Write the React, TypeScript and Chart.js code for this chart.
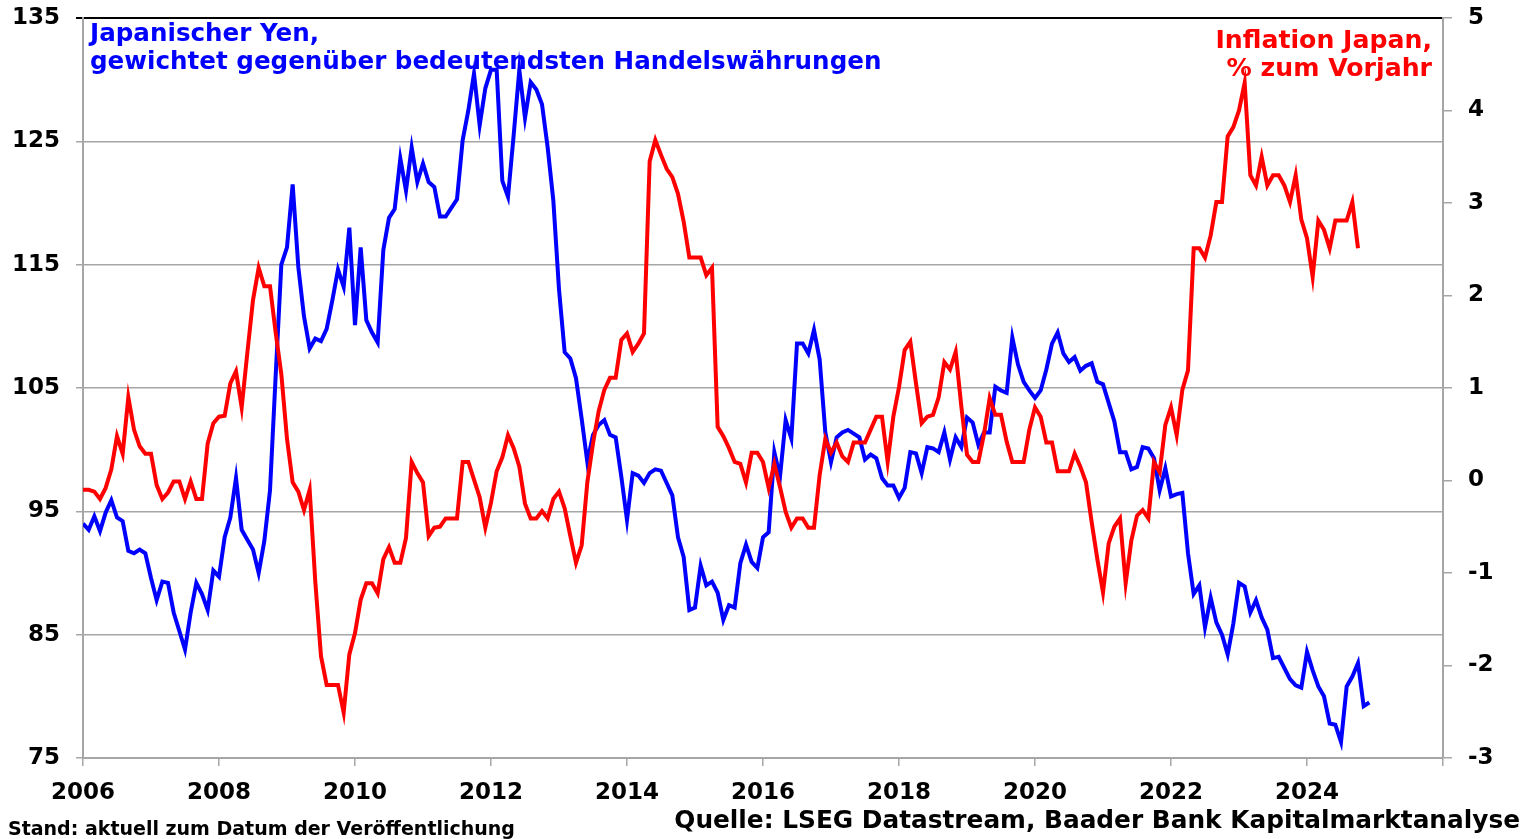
import React, { useEffect, useRef } from "react";
import { Chart, registerables } from "chart.js";

Chart.register(...registerables);

const START_YEAR = 2006;

// Japanese Yen, trade-weighted (left axis), monthly from Jan 2006
const yenIndex: number[] = [
  94.0, 93.5, 94.6, 93.4, 94.9, 95.9, 94.5, 94.2, 91.8, 91.6, 91.9, 91.6,
  89.6, 87.8, 89.3, 89.2, 86.8, 85.3, 83.8, 86.8, 89.2, 88.3, 87.0, 90.2,
  89.7, 92.9, 94.5, 97.7, 93.5, 92.7, 91.9, 90.0, 92.6, 96.7, 106.0, 115.0,
  116.4, 121.5, 114.8, 110.8, 108.2, 109.0, 108.8, 109.8, 112.1, 114.6, 113.2, 118.0,
  110.1, 116.4, 110.5, 109.5, 108.7, 116.2, 118.8, 119.5, 123.6, 121.0, 124.5, 121.7,
  123.2, 121.7, 121.3, 118.9, 118.9, 119.6, 120.3, 125.1, 127.5, 130.5, 126.3, 129.3,
  130.8, 130.8, 121.8, 120.5, 125.5, 130.8, 126.9, 129.8, 129.2, 128.0, 124.5, 120.2,
  113.0, 107.9, 107.4, 105.8, 102.5, 99.0, 101.2, 102.0, 102.4, 101.2, 101.0, 97.8,
  94.3, 98.1, 97.9, 97.3, 98.1, 98.4, 98.3, 97.3, 96.3, 92.9, 91.3, 87.0,
  87.2, 90.6, 89.0, 89.3, 88.4, 86.2, 87.4, 87.2, 90.8, 92.3, 90.9, 90.4,
  92.9, 93.3, 99.8, 97.8, 102.4, 100.9, 108.6, 108.6, 107.8, 109.7, 107.3, 101.4,
  99.0, 101.0, 101.4, 101.6, 101.3, 101.0, 99.2, 99.6, 99.3, 97.7, 97.1, 97.1,
  96.1, 96.9, 99.8, 99.7, 98.1, 100.2, 100.1, 99.8, 101.4, 99.2, 101.0, 100.2,
  102.6, 102.2, 100.4, 101.4, 101.4, 105.1, 104.8, 104.6, 109.1, 106.9, 105.5, 104.8,
  104.2, 104.8, 106.5, 108.6, 109.5, 107.8, 107.1, 107.5, 106.4, 106.8, 107.0, 105.5,
  105.3, 103.8, 102.3, 99.8, 99.8, 98.4, 98.6, 100.2, 100.1, 99.3, 96.7, 98.5,
  96.2, 96.4, 96.5, 91.6, 88.3, 89.0, 85.6, 88.0, 86.0, 85.0, 83.4, 85.9,
  89.2, 88.9, 86.8, 87.8, 86.4, 85.4, 83.1, 83.2, 82.3, 81.4, 80.9, 80.7,
  83.6, 82.1, 80.8, 80.0, 77.8, 77.7, 76.3, 80.8, 81.6, 82.7, 79.2, 79.5,
];

// Inflation Japan, % yoy (right axis), monthly from Jan 2006
const inflationYoY: number[] = [
  -0.10, -0.10, -0.12, -0.20, -0.08, 0.12, 0.48, 0.29, 0.90, 0.55, 0.37, 0.29,
  0.29, -0.05, -0.20, -0.13, -0.01, -0.01, -0.20, -0.01, -0.20, -0.20, 0.40, 0.62,
  0.69, 0.70, 1.05, 1.18, 0.79, 1.38, 1.95, 2.30, 2.10, 2.10, 1.60, 1.15,
  0.45, -0.02, -0.12, -0.32, -0.10, -1.10, -1.90, -2.21, -2.21, -2.21, -2.51, -1.88,
  -1.65, -1.29, -1.11, -1.11, -1.22, -0.85, -0.72, -0.89, -0.89, -0.62, 0.20, 0.08,
  -0.02, -0.60, -0.51, -0.50, -0.41, -0.41, -0.41, 0.20, 0.20, 0.01, -0.18, -0.51,
  -0.24, 0.10, 0.25, 0.49, 0.35, 0.15, -0.25, -0.41, -0.41, -0.33, -0.41, -0.20,
  -0.12, -0.30, -0.60, -0.89, -0.70, -0.02, 0.40, 0.75, 0.98, 1.11, 1.11, 1.52,
  1.59, 1.39, 1.48, 1.59, 3.45, 3.68, 3.52, 3.37, 3.28, 3.10, 2.80, 2.41,
  2.41, 2.41, 2.22, 2.30, 0.58, 0.48, 0.35, 0.20, 0.18, -0.02, 0.30, 0.30,
  0.20, -0.08, 0.18, -0.07, -0.34, -0.51, -0.41, -0.41, -0.51, -0.51, 0.06, 0.45,
  0.30, 0.41, 0.26, 0.20, 0.41, 0.41, 0.41, 0.55, 0.69, 0.69, 0.20, 0.69,
  1.01, 1.41, 1.50, 1.05, 0.62, 0.69, 0.71, 0.90, 1.28, 1.20, 1.39, 0.80,
  0.28, 0.20, 0.20, 0.50, 0.89, 0.71, 0.71, 0.42, 0.20, 0.20, 0.20, 0.55,
  0.79, 0.69, 0.41, 0.41, 0.10, 0.10, 0.10, 0.29, 0.15, -0.02, -0.45, -0.85,
  -1.21, -0.68, -0.50, -0.41, -1.11, -0.65, -0.38, -0.32, -0.41, 0.20, 0.09, 0.60,
  0.79, 0.49, 0.98, 1.19, 2.51, 2.51, 2.41, 2.65, 3.01, 3.01, 3.72, 3.82,
  4.00, 4.30, 3.30, 3.19, 3.50, 3.19, 3.30, 3.30, 3.19, 3.01, 3.30, 2.82,
  2.62, 2.20, 2.81, 2.71, 2.51, 2.81, 2.81, 2.81, 3.01, 2.51,
];

const X_MIN = 2006;
const X_MAX = 2026;
const X_STEP = 2;
const LEFT_MIN = 75;
const LEFT_MAX = 135;
const LEFT_STEP = 10;
const RIGHT_MIN = -3;
const RIGHT_MAX = 5;
const RIGHT_STEP = 1;

const titleYen = ["Japanischer Yen,", "gewichtet gegenüber bedeutendsten Handelswährungen"];
const titleInfl = ["Inflation Japan,", "% zum Vorjahr"];
const footLeft = "Stand: aktuell zum Datum der Veröffentlichung";
const footRight = "Quelle: LSEG Datastream, Baader Bank Kapitalmarktanalyse";

const W = 1526;
const H = 839;
const GRID = "#a6a6a6";
const FONT = "'DejaVu Sans', 'Liberation Sans', Arial, sans-serif";

const toPoints = (arr: number[]) =>
  arr.map((v, i) => ({ x: START_YEAR + i / 12, y: v }));

export default function App() {
  const ref = useRef<HTMLCanvasElement | null>(null);

  useEffect(() => {
    if (!ref.current) return;
    const tickFont = { family: FONT, weight: "bold" as const, size: 23 };
    const chart = new Chart(ref.current, {
      type: "line",
      data: {
        datasets: [
          {
            label: "Inflation Japan",
            data: toPoints(inflationYoY),
            borderColor: "#ff0000",
            backgroundColor: "#ff0000",
            borderWidth: 4,
            pointRadius: 0,
            tension: 0,
            yAxisID: "y1",
            order: 1,
          },
          {
            label: "Yen",
            data: toPoints(yenIndex),
            borderColor: "#0000ff",
            backgroundColor: "#0000ff",
            borderWidth: 4,
            pointRadius: 0,
            tension: 0,
            yAxisID: "y",
            order: 2,
          },
        ],
      },
      options: {
        responsive: false,
        animation: false,
        events: [],
        layout: { padding: { top: 18, left: 0, right: 0, bottom: 0 } },
        plugins: { legend: { display: false }, tooltip: { enabled: false } },
        scales: {
          x: {
            type: "linear",
            min: X_MIN,
            max: X_MAX,
            ticks: {
              stepSize: X_STEP,
              font: tickFont,
              color: "#000",
              padding: 13,
              maxRotation: 0,
              autoSkip: false,
              callback: (v: any) => (Number(v) >= X_MAX ? "" : String(v)),
            },
            grid: {
              drawOnChartArea: false,
              drawTicks: true,
              tickLength: 8,
              color: GRID,
              lineWidth: 1.5,
            },
            border: { display: true, color: GRID, width: 2 },
            afterFit: (s: any) => {
              s.height = 81;
              s.paddingLeft = 0;
              s.paddingRight = 0;
            },
          },
          y: {
            type: "linear",
            position: "left",
            min: LEFT_MIN,
            max: LEFT_MAX,
            ticks: {
              stepSize: LEFT_STEP,
              font: tickFont,
              color: "#000",
              padding: 16,
              callback: (v: any) => String(v),
            },
            grid: {
              drawTicks: true,
              tickLength: 7,
              color: (c: any) => (c.tick && c.tick.value === LEFT_MAX ? "#000" : GRID),
              lineWidth: (c: any) => (c.tick && c.tick.value === LEFT_MAX ? 2 : 1.5),
            },
            border: { display: true, color: GRID, width: 2 },
            afterFit: (s: any) => {
              s.width = 83;
              s.paddingTop = 0;
              s.paddingBottom = 0;
            },
          },
          y1: {
            type: "linear",
            position: "right",
            min: RIGHT_MIN,
            max: RIGHT_MAX,
            ticks: {
              stepSize: RIGHT_STEP,
              font: tickFont,
              color: "#000",
              padding: 16,
              callback: (v: any) => String(v),
            },
            grid: {
              drawOnChartArea: false,
              drawTicks: true,
              tickLength: 9,
              color: GRID,
              lineWidth: 1.5,
            },
            border: { display: true, color: GRID, width: 2 },
            afterFit: (s: any) => {
              s.width = 83;
              s.paddingTop = 0;
              s.paddingBottom = 0;
            },
          },
        },
      },
    });
    return () => chart.destroy();
  }, []);

  const textBase: React.CSSProperties = {
    position: "absolute",
    fontFamily: FONT,
    fontWeight: "bold",
    whiteSpace: "nowrap",
    margin: 0,
  };

  return (
    <div
      style={{
        position: "fixed",
        left: 0,
        top: 0,
        width: W,
        height: H,
        background: "#fff",
        overflow: "hidden",
      }}
    >
      <canvas ref={ref} width={W} height={H} style={{ display: "block", width: W, height: H }} />
      <div style={{ ...textBase, left: 90, top: 19, fontSize: 24.6, lineHeight: "28px", color: "#0000ff" }}>
        {titleYen.map((t, i) => (
          <div key={i}>{t}</div>
        ))}
      </div>
      <div
        style={{
          ...textBase,
          right: W - 1432,
          top: 26,
          fontSize: 25.2,
          lineHeight: "28px",
          color: "#ff0000",
          textAlign: "right",
        }}
      >
        {titleInfl.map((t, i) => (
          <div key={i}>{t}</div>
        ))}
      </div>
      <div style={{ ...textBase, left: 8, top: 818, fontSize: 19, lineHeight: "20px", color: "#000" }}>
        {footLeft}
      </div>
      <div
        style={{
          ...textBase,
          right: 6,
          top: 806,
          fontSize: 24.8,
          lineHeight: "28px",
          color: "#000",
          textAlign: "right",
        }}
      >
        {footRight}
      </div>
    </div>
  );
}
